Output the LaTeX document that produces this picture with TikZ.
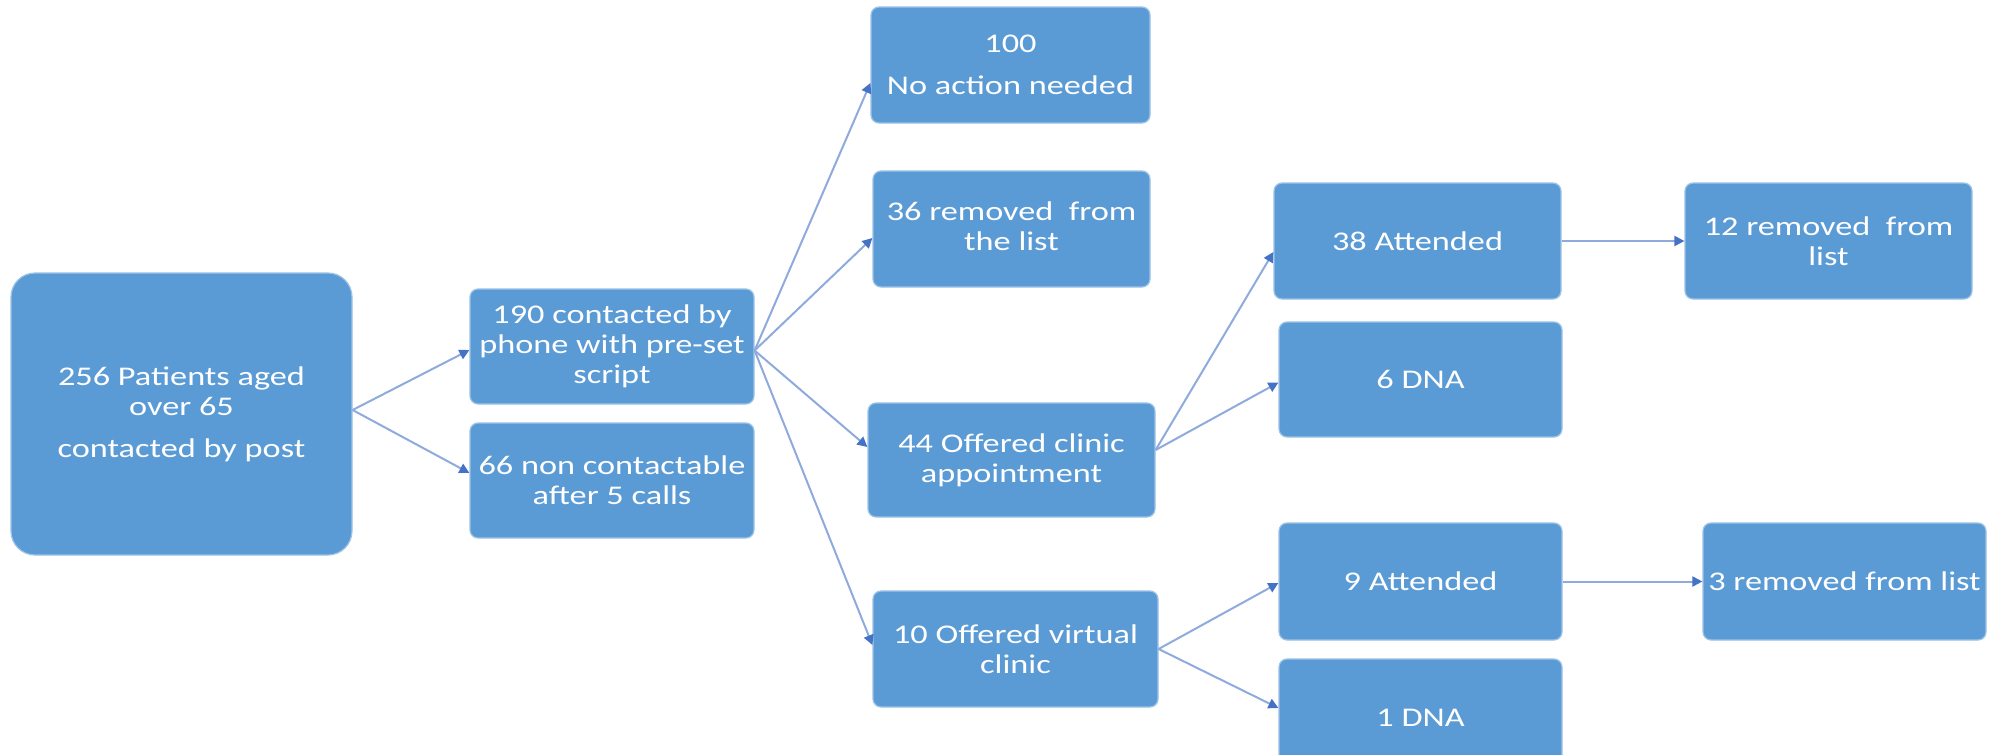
\documentclass[tikz,border=0pt]{standalone}
\usepackage{fontspec}
\setmainfont{Carlito}[FakeStretch=1.27]
\usetikzlibrary{arrows.meta}
\definecolor{boxblue}{HTML}{5B9BD5}
\definecolor{boxedge}{HTML}{9DC3E6}
\definecolor{linecol}{HTML}{8FAADC}
\definecolor{tipcol}{HTML}{4472C4}
\begin{document}
\begin{tikzpicture}[x=0.5pt,y=-0.5pt,
  box/.style={fill=boxblue, draw=boxedge, line width=0.6pt, rounded corners=4pt,
    text=white, align=center, inner sep=0pt, font=\fontsize{13.5}{15}\selectfont},
  arr/.style={draw=linecol, line width=1pt, -{Triangle[length=5pt,width=5pt,color=tipcol]}}]
\useasboundingbox (0,0) rectangle (1992,755);
\clip (0,0) rectangle (1992,755);
\fill[white] (0,0) rectangle (1992,755);

\node[box, rounded corners=12pt, minimum width=170.5pt, minimum height=141pt] (A) at (181.5,414)
  {256 Patients aged\\ over 65\\[6pt] contacted by post};
\node[box, minimum width=142pt, minimum height=57.5pt] (B) at (612,346.5)
  {190 contacted by\\ phone with pre-set\\ script};
\node[box, minimum width=142pt, minimum height=57.5pt] (C) at (612,480.5)
  {66 non contactable\\ after 5 calls};
\node[box, minimum width=139.5pt, minimum height=58pt] (D) at (1010.5,65)
  {100\\[6pt] No action needed};
\node[box, minimum width=138.5pt, minimum height=58pt] (E) at (1011.5,229)
  {\raisebox{3pt}{36 removed\ \ from}\\ \raisebox{3pt}{the list}};
\node[box, minimum width=143.5pt, minimum height=57pt] (I) at (1011.5,460)
  {44 Offered clinic\\ appointment};
\node[box, minimum width=142.5pt, minimum height=58pt] (J) at (1015.5,649)
  {10 Offered virtual\\ clinic};
\node[box, minimum width=143.5pt, minimum height=58pt] (F) at (1417.5,241)
  {38 Attended};
\node[box, minimum width=141.5pt, minimum height=57.5pt] (H) at (1420.5,379.5)
  {6 DNA};
\node[box, minimum width=141.5pt, minimum height=58.5pt] (K) at (1420.5,581.5)
  {9 Attended};
\node[box, minimum width=141.5pt, minimum height=58.5pt] (L) at (1420.5,717.5)
  {1 DNA};
\node[box, minimum width=143.5pt, minimum height=58pt] (G) at (1828.5,241)
  {12 removed\ \ from\\ list};
\node[box, minimum width=141.5pt, minimum height=58.5pt] (M) at (1844.5,581.5)
  {3 removed from list};

\draw[arr] ([yshift=2pt]A.east) -- ([yshift=-1.75pt]B.west);
\draw[arr] ([yshift=2pt]A.east) -- ([yshift=3.75pt]C.west);

\draw[arr] ([yshift=-2pt]B.east) -- ([yshift=-9pt]D.west);
\draw[arr] ([yshift=-2pt]B.east) -- ([yshift=-4.5pt]E.west);
\draw[arr] ([yshift=-2pt]B.east) -- ([yshift=6.5pt]I.west);
\draw[arr] ([yshift=-2pt]B.east) -- ([yshift=2pt]J.west);

\draw[arr] ([yshift=5pt]I.east) -- ([yshift=-5.5pt]F.west);
\draw[arr] ([yshift=5pt]I.east) -- ([yshift=-1.5pt]H.west);

\draw[arr] (J.east) -- ([yshift=-0.75pt]K.west);
\draw[arr] (J.east) -- ([yshift=4.75pt]L.west);

\draw[arr] (F.east) -- (G.west);
\draw[arr] (K.east) -- (M.west);
\end{tikzpicture}
\end{document}
